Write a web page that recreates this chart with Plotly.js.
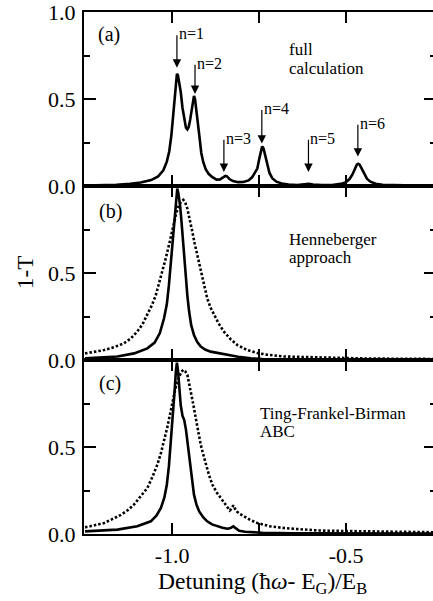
<!DOCTYPE html>
<html>
<head>
<meta charset="utf-8">
<script src="https://cdn.plot.ly/plotly-3.0.1.min.js"></script>
<style>
html,body{margin:0;padding:0;overflow:hidden;background:#fff;}
#chart{width:436px;height:601px;}
</style>
</head>
<body>
<div id="chart"></div>
<script>
// Panel (a): full calculation
const xFull = [-1.25,-1.2,-1.16,-1.12,-1.09,-1.06,-1.04,-1.025,-1.015,-1.008,-1.002,-0.997,-0.993,-0.989,-0.986,-0.983,-0.979,-0.975,-0.970,-0.965,-0.960,-0.956,-0.952,-0.948,-0.944,-0.940,-0.937,-0.934,-0.930,-0.926,-0.921,-0.916,-0.910,-0.903,-0.895,-0.885,-0.872,-0.862,-0.853,-0.847,-0.842,-0.835,-0.825,-0.81,-0.795,-0.78,-0.77,-0.762,-0.755,-0.749,-0.744,-0.741,-0.737,-0.732,-0.727,-0.72,-0.712,-0.70,-0.685,-0.665,-0.64,-0.62,-0.607,-0.595,-0.57,-0.54,-0.515,-0.50,-0.49,-0.482,-0.475,-0.469,-0.465,-0.461,-0.455,-0.448,-0.44,-0.43,-0.415,-0.395,-0.36,-0.30,-0.25];
const yFull = [0.002,0.004,0.007,0.012,0.02,0.034,0.055,0.09,0.14,0.2,0.29,0.40,0.51,0.60,0.645,0.635,0.59,0.54,0.45,0.38,0.335,0.325,0.34,0.38,0.44,0.50,0.518,0.50,0.44,0.38,0.28,0.19,0.135,0.095,0.07,0.052,0.037,0.038,0.048,0.058,0.055,0.04,0.028,0.022,0.023,0.032,0.05,0.075,0.10,0.16,0.21,0.228,0.215,0.17,0.12,0.075,0.045,0.025,0.014,0.008,0.006,0.008,0.012,0.008,0.005,0.006,0.012,0.022,0.04,0.065,0.1,0.123,0.128,0.123,0.1,0.068,0.042,0.025,0.013,0.007,0.004,0.002,0.002];

// Panel (b): Henneberger approach
const xHennSolid = [-1.25,-1.2,-1.157,-1.109,-1.071,-1.05,-1.035,-1.023,-1.015,-1.009,-1.004,-0.999,-0.995,-0.992,-0.988,-0.985,-0.982,-0.977,-0.973,-0.970,-0.965,-0.961,-0.956,-0.951,-0.945,-0.937,-0.928,-0.9175,-0.905,-0.889,-0.865,-0.841,-0.81,-0.774,-0.74,-0.65,-0.5,-0.25];
const yHennSolid = [0.01,0.014,0.02,0.038,0.067,0.1,0.155,0.24,0.32,0.43,0.55,0.66,0.77,0.85,0.95,0.985,0.96,0.89,0.80,0.72,0.58,0.47,0.37,0.28,0.2,0.144,0.105,0.077,0.06,0.048,0.038,0.029,0.019,0.01,0.006,0.004,0.003,0.002];
const xHennDot = [-1.25,-1.195,-1.165,-1.138,-1.118,-1.1,-1.085,-1.071,-1.058,-1.047,-1.037,-1.028,-1.018,-1.009,-1.001,-0.994,-0.987,-0.98,-0.974,-0.9675,-0.962,-0.956,-0.949,-0.942,-0.935,-0.927,-0.920,-0.913,-0.906,-0.899,-0.889,-0.879,-0.866,-0.851,-0.832,-0.812,-0.785,-0.755,-0.728,-0.678,-0.6,-0.537,-0.45,-0.35,-0.25];
const yHennDot = [0.038,0.057,0.075,0.096,0.125,0.163,0.205,0.26,0.315,0.37,0.44,0.51,0.585,0.66,0.73,0.795,0.85,0.89,0.91,0.92,0.905,0.87,0.81,0.74,0.67,0.60,0.535,0.47,0.41,0.355,0.30,0.26,0.21,0.163,0.12,0.086,0.058,0.04,0.031,0.02,0.015,0.012,0.009,0.007,0.006];

// Panel (c): Ting-Frankel-Birman ABC
const xTfbSolid = [-1.25,-1.2,-1.157,-1.1,-1.061,-1.045,-1.032,-1.022,-1.015,-1.009,-1.004,-1.0,-0.996,-0.992,-0.989,-0.986,-0.983,-0.979,-0.975,-0.970,-0.965,-0.960,-0.956,-0.952,-0.948,-0.943,-0.937,-0.93,-0.922,-0.91,-0.899,-0.885,-0.87,-0.855,-0.841,-0.832,-0.824,-0.816,-0.807,-0.79,-0.774,-0.74,-0.65,-0.5,-0.25];
const yTfbSolid = [0.015,0.02,0.025,0.044,0.073,0.105,0.15,0.21,0.283,0.39,0.51,0.62,0.72,0.84,0.935,0.985,0.94,0.84,0.74,0.68,0.655,0.60,0.53,0.45,0.38,0.30,0.226,0.17,0.13,0.095,0.073,0.055,0.044,0.036,0.03,0.034,0.044,0.03,0.019,0.013,0.011,0.007,0.004,0.003,0.002];
const xTfbDot = [-1.25,-1.195,-1.147,-1.125,-1.109,-1.09,-1.071,-1.056,-1.042,-1.032,-1.023,-1.014,-1.006,-0.999,-0.992,-0.986,-0.98,-0.974,-0.9675,-0.962,-0.956,-0.951,-0.946,-0.939,-0.932,-0.925,-0.9175,-0.91,-0.903,-0.894,-0.884,-0.872,-0.86,-0.85,-0.841,-0.834,-0.829,-0.824,-0.819,-0.814,-0.805,-0.793,-0.775,-0.755,-0.72,-0.678,-0.64,-0.613,-0.58,-0.5,-0.44,-0.35,-0.25];
const yTfbDot = [0.038,0.063,0.11,0.14,0.17,0.215,0.264,0.33,0.40,0.465,0.53,0.61,0.686,0.76,0.82,0.87,0.906,0.93,0.944,0.935,0.915,0.87,0.82,0.745,0.667,0.59,0.513,0.455,0.40,0.34,0.283,0.24,0.207,0.18,0.15,0.135,0.145,0.165,0.145,0.13,0.115,0.10,0.08,0.063,0.045,0.034,0.028,0.026,0.02,0.017,0.015,0.012,0.01];

// Tick labels
const xTickVals = [-1.0,-0.75,-0.5];
const xTickText = ['-1.0','','-0.5'];
const yTickValsTop = [0,0.5,1.0];
const yTickTextTop = ['0.0','0.5','1.0'];
const yTickVals = [0,0.5,1.0];
const yTickText = ['0.0','0.5',''];

// Peak markers in panel (a)
const peakLabels = ['n=1','n=2','n=3','n=4','n=5','n=6'];
const peakX = [-0.986,-0.934,-0.851,-0.742,-0.608,-0.466];
const peakHeadY = [0.68,0.529,0.081,0.244,0.081,0.169];
const peakTailY = [0.875,0.705,0.275,0.445,0.275,0.36];

const panelLabels = ['(a)','(b)','(c)'];
const panelNotes = [['full','calculation'],['Henneberger','approach'],['Ting-Frankel-Birman','ABC']];

const FONT = '"Liberation Serif", "Times New Roman", Times, serif';
const solid = {color:'#000', width:2.6};
const dotted = {color:'#000', width:2.6, dash:'2.5px,2px'};

const traces = [
  {x:xFull, y:yFull, xaxis:'x', yaxis:'y', mode:'lines', line:solid, hoverinfo:'skip'},
  {x:xHennDot, y:yHennDot, xaxis:'x2', yaxis:'y2', mode:'lines', line:dotted, hoverinfo:'skip'},
  {x:xHennSolid, y:yHennSolid, xaxis:'x2', yaxis:'y2', mode:'lines', line:solid, hoverinfo:'skip'},
  {x:xTfbDot, y:yTfbDot, xaxis:'x3', yaxis:'y3', mode:'lines', line:dotted, hoverinfo:'skip'},
  {x:xTfbSolid, y:yTfbSolid, xaxis:'x3', yaxis:'y3', mode:'lines', line:solid, hoverinfo:'skip'}
];

const xr = [-1.253,-0.2415];
function xAxis(anchor, showLabels){
  return {anchor:anchor, range:xr, showline:true, linecolor:'#000', linewidth:2, mirror:'ticks',
    ticks:'inside', ticklen:11, tickwidth:2, tickcolor:'#000', tickmode:'array',
    tickvals:xTickVals, ticktext:xTickText, showticklabels:showLabels, showgrid:false, zeroline:false,
    ticklabelstandoff:1, ticklabeloverflow:'allow',
    tickfont:{family:FONT, size:22, color:'#000'}};
}
function yAxis(anchor, domain, vals, text){
  return {anchor:anchor, domain:domain, range:[0,1], showline:true, linecolor:'#000', linewidth:2, mirror:'ticks',
    ticks:'inside', ticklen:12, tickwidth:2, tickcolor:'#000', tickmode:'array',
    tickvals:vals, ticktext:text, showgrid:false, zeroline:false,
    ticklabelstandoff:2, ticklabeloverflow:'allow',
    minor:{tickmode:'array', tickvals:[0.25,0.75], ticks:'inside', ticklen:6, tickwidth:2, tickcolor:'#000', showgrid:false},
    tickfont:{family:FONT, size:22, color:'#000'}};
}

const ann = [];
const axRefs = [['x','y'],['x2','y2'],['x3','y3']];
const labelPos = [[-1.181,0.872],[-1.177,0.856],[-1.178,0.865]];
const notePos = [[-0.667,0.783,0.673],[-0.667,0.695,0.591],[-0.75,0.695,0.591]];
for(let i=0;i<3;i++){
  ann.push({xref:axRefs[i][0], yref:axRefs[i][1], x:labelPos[i][0], y:labelPos[i][1], text:panelLabels[i],
    showarrow:false, xanchor:'center', yanchor:'middle', font:{family:FONT, size:20, color:'#000'}});
  ann.push({xref:axRefs[i][0], yref:axRefs[i][1], x:notePos[i][0], y:notePos[i][1], text:panelNotes[i][0],
    showarrow:false, xanchor:'left', yanchor:'middle', borderpad:0, font:{family:FONT, size:17, color:'#000'}});
  ann.push({xref:axRefs[i][0], yref:axRefs[i][1], x:notePos[i][0], y:notePos[i][2], text:panelNotes[i][1],
    showarrow:false, xanchor:'left', yanchor:'middle', borderpad:0, font:{family:FONT, size:17, color:'#000'}});
}
for(let k=0;k<peakLabels.length;k++){
  ann.push({xref:'x', yref:'y', axref:'x', ayref:'y', x:peakX[k], y:peakHeadY[k], ax:peakX[k], ay:peakTailY[k],
    text:'', showarrow:true, arrowhead:2, arrowsize:1.4, arrowwidth:1.2, arrowcolor:'#000', standoff:0, startstandoff:0});
  ann.push({xref:'x', yref:'y', x:peakX[k], y:peakTailY[k], text:peakLabels[k], showarrow:false,
    xanchor:'left', yanchor:'middle', xshift:0, font:{family:FONT, size:16, color:'#000'}});
}
ann.push({xref:'paper', yref:'paper', x:-0.1676, y:0.5, text:'1-T', textangle:-90, showarrow:false,
  xanchor:'center', yanchor:'middle', font:{family:FONT, size:23, color:'#000'}});
ann.push({xref:'paper', yref:'paper', x:0.5057, y:-0.093, text:'Detuning (ħ<i>ω</i>- E<sub>G</sub>)/E<sub>B</sub>', showarrow:false,
  xanchor:'center', yanchor:'middle', borderpad:0, font:{family:FONT, size:23.5, color:'#000'}});

const layout = {
  width:436, height:601,
  margin:{l:84, r:0, t:12, b:67},
  paper_bgcolor:'#fff', plot_bgcolor:'#fff',
  showlegend:false,
  font:{family:FONT, color:'#000'},
  xaxis:xAxis('y', false),
  yaxis:yAxis('x', [2/3,1], yTickValsTop, yTickTextTop),
  xaxis2:xAxis('y2', false),
  yaxis2:yAxis('x2', [1/3,2/3], yTickVals, yTickText),
  xaxis3:xAxis('y3', true),
  yaxis3:yAxis('x3', [0,1/3], yTickVals, yTickText),
  annotations:ann
};

Plotly.newPlot('chart', traces, layout, {staticPlot:true, displayModeBar:false});
</script>
</body>
</html>
